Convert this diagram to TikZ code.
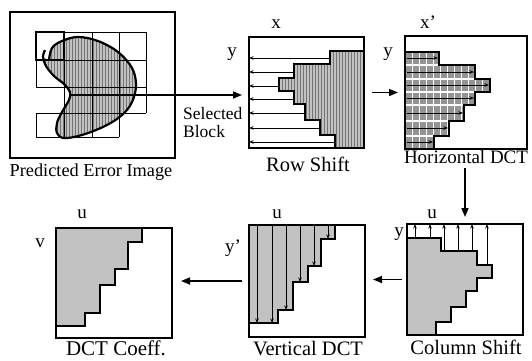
\documentclass[tikz,border=0pt]{standalone}
\usepackage{fontspec}
\setmainfont{Liberation Serif}
\usetikzlibrary{arrows.meta,patterns.meta}
\newcommand{\stairL}{(0,0) -- (34,0) -- (34,13) -- (70,13) -- (70,27) -- (85,27) -- (85,40) -- (70,40) -- (70,53) -- (59,53) -- (59,69) -- (44,69) -- (44,84) -- (29,84) -- (29,97) -- (0,97) -- cycle}
\newcommand{\stairU}{(0,0) -- (86,0) -- (86,14) -- (72,14) -- (72,41) -- (59,41) -- (59,57) -- (44,57) -- (44,85) -- (29,85) -- (29,98) -- (0,98) -- cycle}
\begin{document}
\begin{tikzpicture}[x=1pt,y=-1pt,
  panel/.style={draw, line width=2.2pt, inner sep=0pt, outer sep=0pt},
  stair/.style={line width=2.2pt, line join=miter},
  shadefill/.style={fill=black!24},
  streaks/.style={pattern={Lines[angle=90,distance=3pt,line width=0.5pt]}, pattern color=black!55},
  thinarr/.style={line width=0.7pt, -{Stealth[length=4.5pt,width=3.5pt]}},
  bigarr/.style={line width=1.6pt, -{Triangle[length=9pt,width=7pt]}},
  gridline/.style={line width=0.8pt},
  axislbl/.style={font=\fontsize{19}{20}\selectfont, inner sep=0pt, anchor=base},
  caption/.style={inner sep=0pt, anchor=base}
]
\useasboundingbox (0,0) rectangle (532,360);

% ---------- Panel 1: Predicted Error Image ----------
\fill[black!24] plot[smooth cycle, tension=0.6] coordinates {(49,60) (52,48) (62,41) (78,37) (98,41) (118,52) (132,68) (136,85) (132,102) (122,115) (105,126) (82,135) (64,138) (57,133) (57,123) (62,112) (69,100) (70,92) (64,84) (54,76) (46,66) (43,57)};
\fill[streaks] plot[smooth cycle, tension=0.6] coordinates {(49,60) (52,48) (62,41) (78,37) (98,41) (118,52) (132,68) (136,85) (132,102) (122,115) (105,126) (82,135) (64,138) (57,133) (57,123) (62,112) (69,100) (70,92) (64,84) (54,76) (46,66) (43,57)};
% grid cells
\draw[gridline] (36,32) -- (146,32);
\draw[gridline] (36,60) -- (146,60);
\draw[gridline] (36,87) -- (146,87);
\draw[gridline] (36,113) -- (146,113);
\draw[gridline] (36,137) -- (119,137);
\draw[gridline] (36,32) -- (36,87);
\draw[gridline] (36,113) -- (36,137);
\draw[gridline] (64,32) -- (64,137);
\draw[gridline] (92,32) -- (92,137);
\draw[gridline] (119,32) -- (119,137);
\draw[gridline] (146,32) -- (146,113);
% selected block
\draw[line width=2.2pt] (36,32) rectangle (64,60);
% object contour
\draw[line width=2.2pt] plot[smooth, tension=0.6] coordinates {(49,60) (52,48) (62,41) (78,37) (98,41) (118,52) (132,68) (136,85) (132,102) (122,115) (105,126) (82,135) (64,138) (57,133) (57,123) (62,112) (69,100) (70,92) (64,84) (54,76) (46,66) (43,57) (45,50)};
\node[panel, minimum width=165pt, minimum height=146pt] (pe) at (92.5,85) {};
\node[caption, font=\fontsize{18.3}{20}\selectfont] (pel) at (91,176) {Predicted Error Image};

% ---------- Panel 2: Row Shift ----------
\begin{scope}[shift={(364,51)}, xscale=-1]
  \fill[shadefill] \stairL;
  \fill[streaks] \stairL;
  \draw[stair] \stairL;
  \foreach \w/\m in {34/7,70/21,85/35,70/48,59/62,44/77,29/91}
    \draw[thinarr] (\w,\m) -- (115,\m);
\end{scope}
\node[panel, minimum width=115pt, minimum height=111pt] (rs) at (306.5,92.5) {};
\node[axislbl] (rsx) at (276,28) {x};
\node[axislbl] (rsy) at (232,56) {y};
\node[caption, font=\fontsize{20.5}{22}\selectfont] (rsl) at (308,171) {Row Shift};

% ---------- Panel 3: Horizontal DCT ----------
\begin{scope}[shift={(405,52)}]
  \fill[black!42] \stairL;
  \begin{scope}
    \clip \stairL;
    \foreach \x in {7,14,...,84} \draw[white, line width=0.9pt] (\x,0) -- (\x,97);
    \foreach \y in {13,27,40,53,69,84} \draw[white, line width=1.6pt] (0,\y) -- (90,\y);
  \end{scope}
  \draw[stair] \stairL;
  \foreach \w/\m in {34/6,70/20,85/33,70/46,59/61,44/76,29/90}
    \draw[thinarr] (2,\m) -- ({\w-1},\m);
\end{scope}
\node[panel, minimum width=122pt, minimum height=113pt] (hd) at (466,92.5) {};
\node[axislbl] (hdx) at (428,28) {x'};
\node[axislbl] (hdy) at (388,56) {y};
\node[caption, font=\fontsize{19}{21}\selectfont] (hdl) at (466,163) {Horizontal DCT};

% ---------- Panel 4: Column Shift ----------
\begin{scope}[shift={(407,238)}]
  \fill[shadefill] \stairL;
  \draw[stair] \stairL;
  \foreach \x/\t in {8/0,23/0,37/13,51/13,65/13,80/27}
    \draw[thinarr] (\x,\t) -- (\x,-14);
\end{scope}
\node[panel, minimum width=116pt, minimum height=111pt] (cs) at (465,279.5) {};
\node[axislbl] (csu) at (432,218) {u};
\node[axislbl] (csy) at (399,236) {y};
\node[caption, font=\fontsize{20.5}{22}\selectfont] (csl) at (466,354) {Column Shift};

% ---------- Panel 5: Vertical DCT ----------
\begin{scope}[shift={(249,225)}]
  \fill[shadefill] \stairU;
  \draw[stair] \stairU;
  \foreach \x/\b in {8/98,23/98,37/85,51/57,65/41,79/14}
    \draw[thinarr] (\x,0) -- (\x,\b);
\end{scope}
\node[panel, minimum width=116pt, minimum height=112pt] (vd) at (307,281) {};
\node[axislbl] (vdu) at (277,218) {u};
\node[axislbl] (vdy) at (233,252) {y'};
\node[caption, font=\fontsize{20.5}{22}\selectfont] (vdl) at (308,355) {Vertical DCT};

% ---------- Panel 6: DCT Coeff. ----------
\begin{scope}[shift={(56,228)}]
  \fill[shadefill] \stairU;
  \draw[stair] \stairU;
\end{scope}
\node[panel, minimum width=116pt, minimum height=110pt] (dc) at (114,283) {};
\node[axislbl] (dcu) at (82,218) {u};
\node[axislbl] (dcv) at (40,247) {v};
\node[caption, font=\fontsize{21}{23}\selectfont] (dcl) at (116,355) {DCT Coeff.};

% ---------- Flow arrows ----------
\coordinate (selstart) at (70,95);
\draw[bigarr, shorten >=7pt] (selstart) -- (selstart -| rs.west);
\node[caption, anchor=base west, font=\fontsize{17.5}{19}\selectfont] (sel) at (183,119) {Selected};
\node[caption, anchor=base west, font=\fontsize{17.5}{19}\selectfont] (blk) at (183,137) {Block};
\draw[bigarr, shorten <=8pt, shorten >=7pt] (rs.east) -- (hd.west);
\draw[bigarr, shorten <=5pt, shorten >=7pt] (hdl.south -| cs.north) -- (cs.north);
\draw[bigarr, shorten <=5pt, shorten >=8pt] (cs.west) -- (cs.west -| vd.east);
\draw[bigarr, shorten <=7pt, shorten >=9pt] (vd.west) -- (vd.west -| dc.east);
\end{tikzpicture}
\end{document}
